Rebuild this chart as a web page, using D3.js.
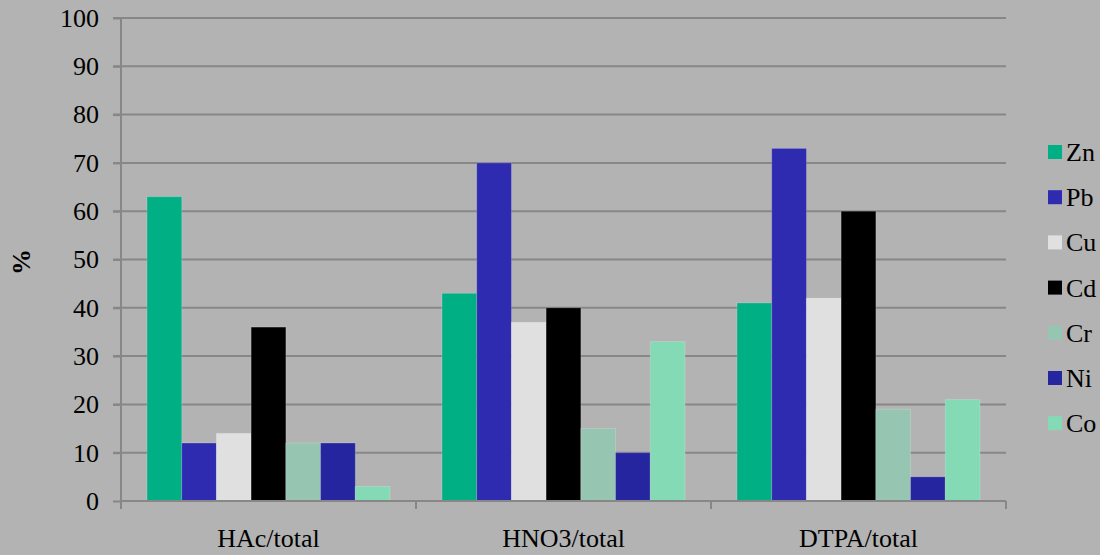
<!DOCTYPE html>
<html><head><meta charset="utf-8">
<script src="https://cdn.jsdelivr.net/npm/d3@7"></script>
<style>
html,body{margin:0;padding:0;background:#b3b3b3;}
svg{display:block;}
</style></head>
<body><svg id="c" width="1100" height="555"></svg>
<script>
const categories = ["HAc/total", "HNO3/total", "DTPA/total"];
const seriesNames = ["Zn", "Pb", "Cu", "Cd", "Cr", "Ni", "Co"];
const Zn = [63, 43, 41];
const Pb = [12, 70, 73];
const Cu = [14, 37, 42];
const Cd = [36, 40, 60];
const Cr = [12, 15, 19];
const Ni = [12, 10, 5];
const Co = [3, 33, 21];
const yTicks = [0, 10, 20, 30, 40, 50, 60, 70, 80, 90, 100];
const colors = ["#00b084", "#2e2bb0", "#e0e0e0", "#000000", "#96c6b2", "#2525a0", "#84dab5"];

const seriesValues = [Zn, Pb, Cu, Cd, Cr, Ni, Co];
const FONT = "'Liberation Serif', 'Times New Roman', Times, 'DejaVu Serif', serif";

const svg = d3.select("#c");
svg.append("rect").attr("width",1100).attr("height",555).attr("fill","#b3b3b3");

const L = 121, R = 1006, T = 18, B = 501;
const y = d3.scaleLinear().domain([0,100]).range([B,T]);
const x = d3.scaleBand().domain(categories).range([L,R]).padding(0);
const bw = x.bandwidth();
const barW = bw/8.5;
const xs = d3.scaleBand().domain(seriesNames).range([barW*0.75, bw - barW*0.75]).padding(0);

// gridlines
svg.append("g").selectAll("line").data(yTicks.filter(d=>d>0)).join("line")
  .attr("x1", L-8).attr("x2", R).attr("y1", d=>y(d)).attr("y2", d=>y(d))
  .attr("stroke","#878787").attr("stroke-width",2);

// y axis
const yAxis = d3.axisLeft(y).tickValues(yTicks).tickSize(8).tickPadding(14);
const gy = svg.append("g").attr("transform",`translate(${L},0)`).call(yAxis)
  .attr("font-family", FONT).attr("font-size", 26);
gy.select(".domain").remove();
gy.selectAll(".tick line").attr("stroke","#878787").attr("stroke-width",2);
gy.selectAll(".tick text").attr("fill","#000");
svg.append("line").attr("x1",L).attr("x2",L).attr("y1",T).attr("y2",B+7)
  .attr("stroke","#878787").attr("stroke-width",2);

// bars
const g = svg.append("g");
categories.forEach((cat,ci)=>{
  seriesNames.forEach((s,si)=>{
    const v = seriesValues[si][ci];
    g.append("rect")
      .attr("x", x(cat)+xs(s)).attr("width", xs.bandwidth())
      .attr("y", y(v)).attr("height", y(0)-y(v))
      .attr("fill", colors[si])
      .attr("stroke", "rgba(255,255,255,0.18)").attr("stroke-width",1);
  });
});

// x axis
const xAxis = d3.axisBottom(x).tickSize(0).tickPadding(28);
const gx = svg.append("g").attr("transform",`translate(0,${B})`).call(xAxis)
  .attr("font-family", FONT).attr("font-size", 26);
gx.select(".domain").remove();
gx.selectAll(".tick text").attr("fill","#000");
svg.append("line").attr("x1",L).attr("x2",R).attr("y1",B).attr("y2",B)
  .attr("stroke","#878787").attr("stroke-width",2);
const bounds = categories.map(c=>x(c)).concat([R]);
svg.append("g").selectAll("line").data(bounds).join("line")
  .attr("x1",d=>d).attr("x2",d=>d).attr("y1",B).attr("y2",B+8)
  .attr("stroke","#878787").attr("stroke-width",2);

// y label
svg.append("text").attr("transform","translate(30,262) rotate(-90)")
  .attr("text-anchor","middle").attr("font-family",FONT).attr("font-size",26)
  .attr("font-weight","bold").text("%");

// legend
const lg = svg.append("g").attr("font-family",FONT).attr("font-size",26);
seriesNames.forEach((s,i)=>{
  const cy = 152 + i*45.2;
  lg.append("rect").attr("x",1048).attr("y",cy-7).attr("width",14).attr("height",14).attr("fill",colors[i]);
  lg.append("text").attr("x",1066).attr("y",cy+9).text(s);
});
</script></body></html>
